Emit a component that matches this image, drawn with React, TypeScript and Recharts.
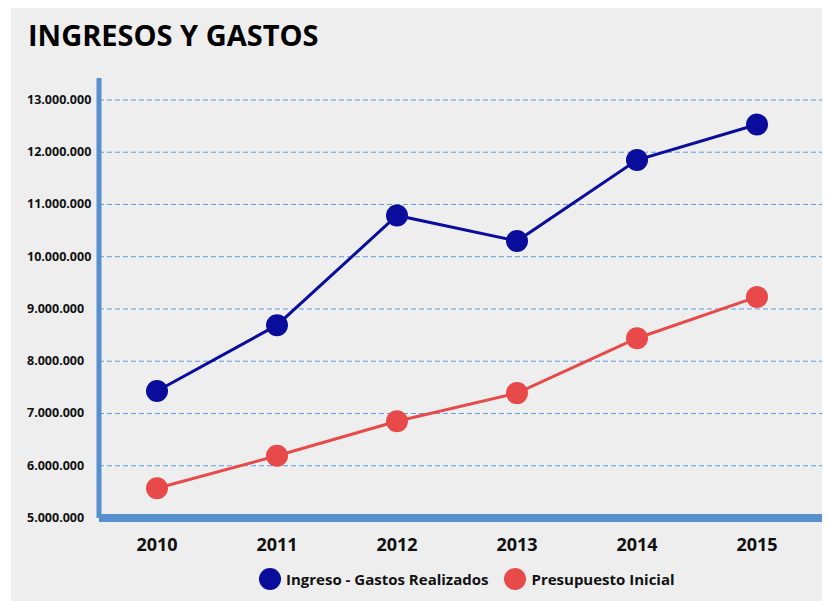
import React from 'react';
import { LineChart, Line, XAxis, YAxis, CartesianGrid } from 'recharts';

const years = ['2010', '2011', '2012', '2013', '2014', '2015'];
const ingresoGastos = [7430000, 8690000, 10790000, 10300000, 11850000, 12530000];
const presupuestoInicial = [5570000, 6190000, 6850000, 7390000, 8440000, 9230000];
const yTicks = [5000000, 6000000, 7000000, 8000000, 9000000, 10000000, 11000000, 12000000, 13000000];

const data = years.map((year, i) => ({
  year,
  ingreso: ingresoGastos[i],
  presupuesto: presupuestoInicial[i],
}));

const BLUE = '#0a0d9c';
const RED = '#e84a4a';
const AXIS = '#5590cc';
const FONT = '"Open Sans", sans-serif';

const fmt = (v: number) => v.toLocaleString('de-DE');

const YTick = (props: any) => {
  const { y, payload } = props;
  return (
    <text x={16} y={y} dy={4} textAnchor="start" fontSize={12.5} fontWeight={700} fill="#111" fontFamily={FONT}>
      {fmt(payload.value)}
    </text>
  );
};

const legendItems = [
  { label: 'Ingreso - Gastos Realizados', color: BLUE },
  { label: 'Presupuesto Inicial', color: RED },
];

const App = () => {
  return (
    <div style={{ position: 'relative', marginLeft: 3, width: 815, height: 593, background: '#eeeeee', overflow: 'hidden' }}>
      <div style={{ position: 'absolute', left: 17, top: 7, fontFamily: FONT, fontWeight: 700, fontSize: 29, color: '#000' }}>
        INGRESOS Y GASTOS
      </div>
      <LineChart width={815} height={593} data={data} margin={{ top: 70, right: 3, bottom: 0, left: 0 }}>
        <CartesianGrid
          horizontal
          vertical={false}
          stroke="#5b9fe0"
          strokeDasharray="5 3"
          horizontalValues={yTicks.slice(1)}
        />
        <XAxis
          dataKey="year"
          padding={{ left: 58, right: 66 }}
          axisLine={{ stroke: AXIS, strokeWidth: 8 }}
          tickLine={false}
          tickSize={0}
          tickMargin={20}
          height={83}
          tick={{ fontSize: 18, fontWeight: 700, fill: '#111', fontFamily: FONT }}
        />
        <YAxis
          width={88}
          domain={[5000000, 13420000]}
          ticks={yTicks}
          axisLine={{ stroke: AXIS, strokeWidth: 5 }}
          tickLine={false}
          tick={<YTick />}
        />
        <Line
          type="linear"
          dataKey="ingreso"
          stroke={BLUE}
          strokeWidth={3}
          dot={{ r: 11, fill: BLUE, stroke: 'none' }}
          activeDot={false}
          isAnimationActive={false}
        />
        <Line
          type="linear"
          dataKey="presupuesto"
          stroke={RED}
          strokeWidth={3}
          dot={{ r: 11, fill: RED, stroke: 'none' }}
          activeDot={false}
          isAnimationActive={false}
        />
      </LineChart>
      <div
        style={{
          position: 'absolute',
          left: 248,
          top: 560,
          display: 'flex',
          alignItems: 'center',
          fontFamily: FONT,
          fontWeight: 700,
          fontSize: 15,
          color: '#111',
        }}
      >
        {legendItems.map((it) => (
          <div key={it.label} style={{ display: 'flex', alignItems: 'center', marginRight: 16 }}>
            <span style={{ width: 22, height: 22, borderRadius: 11, background: it.color, display: 'inline-block', marginRight: 5 }} />
            <span>{it.label}</span>
          </div>
        ))}
      </div>
    </div>
  );
};

export default App;
